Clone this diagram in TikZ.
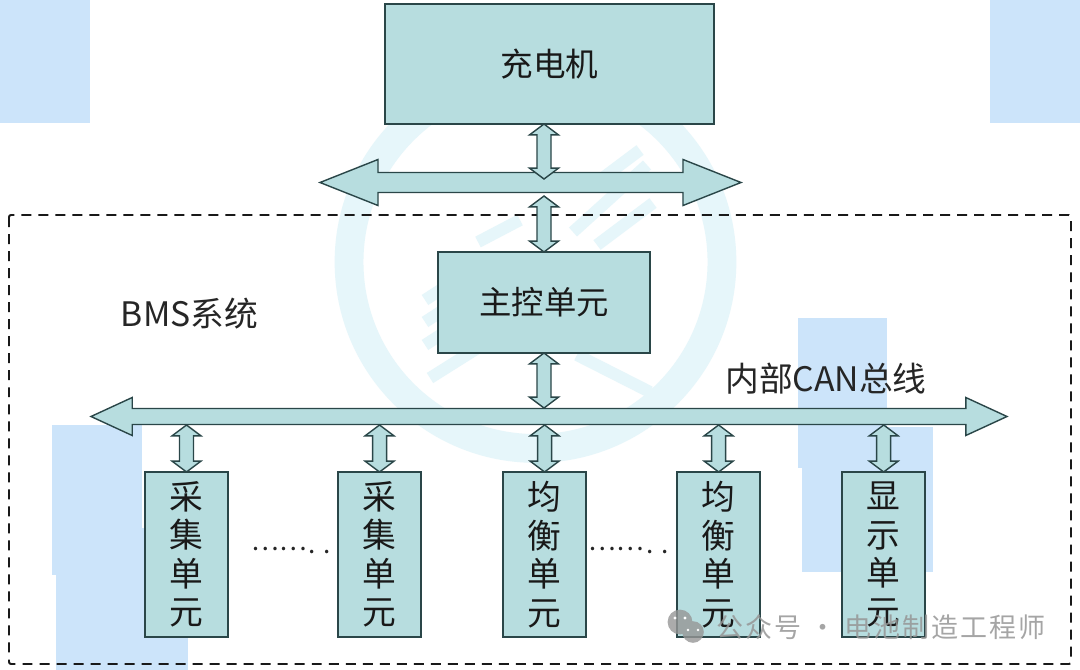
\documentclass[tikz,border=0pt]{standalone}
\usepackage{fontspec}
\setmainfont{Noto Sans CJK SC}
\newfontfamily\markfont[LetterSpace=7.5]{Noto Sans CJK SC}
\usepackage{xcolor}
\usepackage{tikz}
\usetikzlibrary{positioning, calc}
\definecolor{boxteal}{RGB}{183,221,223}
\definecolor{edgeteal}{RGB}{42,70,72}
\definecolor{patchblue}{RGB}{204,228,250}
\definecolor{ringblue}{RGB}{230,246,250}
\definecolor{markgray}{RGB}{150,150,150}

\begin{document}
\begin{tikzpicture}[
  x=0.025cm, y=-0.025cm,
  box/.style={draw=edgeteal, fill=boxteal, line width=1pt, outer sep=0pt, inner sep=0pt,
              align=center, text=black!90},
  unitbox/.style={box, minimum width=2.075cm, minimum height=4.125cm,
              font=\fontsize{24}{27.4}\selectfont},
  label/.style={inner sep=0pt, text=black!85, font=\fontsize{24}{28}\selectfont},
  dotslabel/.style={inner sep=0pt, text=black!85, font=\fontsize{18.5}{22}\selectfont},
  blockarr/.style n args={3}{draw=edgeteal, fill=boxteal, line width=1pt, line join=miter,
    to path={let \p1=($(\tikztotarget)-(\tikztostart)$), \n1={veclen(\x1,\y1)}, \n2={atan2(\y1,\x1)} in
      -- ++([rotate=\n2]#1,#2) -- ++([rotate=\n2]0pt,#3-#2) -- ++([rotate=\n2]\n1-2*#1,0pt)
      -- ++([rotate=\n2]0pt,#2-#3) -- (\tikztotarget) -- ++([rotate=\n2]-#1,-#2)
      -- ++([rotate=\n2]0pt,#2-#3) -- ++([rotate=\n2]2*#1-\n1,0pt) -- ++([rotate=\n2]0pt,#3-#2) -- cycle}},
  linkarr/.style={blockarr={0.27cm}{0.36cm}{0.175cm}},
  busarr/.style={blockarr={1.45cm}{0.575cm}{0.25cm}},
  canarr/.style={blockarr={1.03cm}{0.475cm}{0.2cm}},
  patch/.style={fill=patchblue, draw=none},
  stripe/.style={draw=ringblue, line width=0.3cm},
]
  \fill[white] (0,0) rectangle (1080,670);
  \useasboundingbox (0,0) rectangle (1080,670);

  \fill[patch] (0,0) rectangle (90,123);
  \fill[patch] (990,0) rectangle (1080,123);
  \fill[patch] (52,425) rectangle (142,575);
  \fill[patch] (56,528) rectangle (188,670);
  \fill[patch] (798,318) rectangle (887,468);
  \fill[patch] (802,427) rectangle (933,572);

  \fill[ringblue, even odd rule] (535.5,262) circle (5.02cm) (535.5,262) circle (4.3cm);
  \foreach \xa/\ya/\xb/\yb in {573/232/647/165, 597/245/653/203, 478/242/520/220, 425/300/445/287,
      425/322/445/309, 425/345/445/332, 430/378/535/312, 577/355/650/392, 600/180/640/150}
    \draw[stripe] (\xa,\ya) -- (\xb,\yb);

  \draw[black!90, line width=1.4pt, dash pattern=on 7.1pt off 5pt, rounded corners=1.5pt]
    (9,215) rectangle (1071,664);

  \coordinate (busaL) at (320,182.5);
  \coordinate (busaR) at (741,182.5);
  \coordinate (busaup) at (544,179);
  \coordinate (busadn) at (544,196);
  \coordinate (busbL) at (91,416.5);
  \coordinate (busbR) at (1007,416.5);
  \coordinate (busbup) at (544,408);
  \coordinate (busbdn) at (544,425);

  \node[box, minimum width=8.225cm, minimum height=3cm, font=\fontsize{23.2}{28}\selectfont]
    (charger) at (549.5,64) {充电机};
  \node[box, minimum width=5.3cm, minimum height=2.525cm, font=\fontsize{23}{27}\selectfont]
    (ctrl) at (544,302.5) {主控单元};

  \node[unitbox] (unita) at (186.5,554.5) {采\\集\\单\\元};
  \node[unitbox, right=2.75cm of unita] (unitb) {采\\集\\单\\元};
  \node[unitbox, right=2.05cm of unitb] (unitc) {均\\衡\\单\\元};
  \node[unitbox, right=2.275cm of unitc] (unitd) {均\\衡\\单\\元};
  \node[unitbox, right=2.05cm of unitd] (unite) {显\\示\\单\\元};

  \draw[busarr] (busaL) to (busaR);
  \draw[canarr] (busbL) to (busbR);

  \draw[linkarr] (charger.south -| ctrl.north) to (busaup);
  \draw[linkarr] (busadn) to (ctrl.north);
  \draw[linkarr] (ctrl.south) to (busbup);
  \foreach \unit in {unita, unitb, unitc, unitd, unite}
    \draw[linkarr] (\unit.north |- busbdn) to (\unit.north);

  \node[label] (bmslabel) at (189.5,314) {BMS系统};
  \node[label] (canlabel) at (826,379) {内部CAN总线};

  \node[dotslabel] (dotsa) at (279,549) {……};
  \node[dotslabel, text=black!85] (dotsaend) at (319.5,552) {. .};
  \node[dotslabel] (dotsb) at (616,549) {……};
  \node[dotslabel, text=black!85] (dotsbend) at (657.5,552) {. .};

  \fill[markgray, fill opacity=.8] (680,622) circle (0.31cm) (693,632) circle (0.27cm);
  \fill[white] (675,618) circle (0.04cm) (685,618) circle (0.04cm)
    (688,630) circle (0.035cm) (698,630) circle (0.035cm);
  \node[inner sep=0pt, anchor=west, text=markgray, text opacity=.85,
    font=\markfont\fontsize{19.2}{23}\selectfont]
    (watermark) at (716,627) {公众号 · 电池制造工程师};
\end{tikzpicture}
\end{document}
